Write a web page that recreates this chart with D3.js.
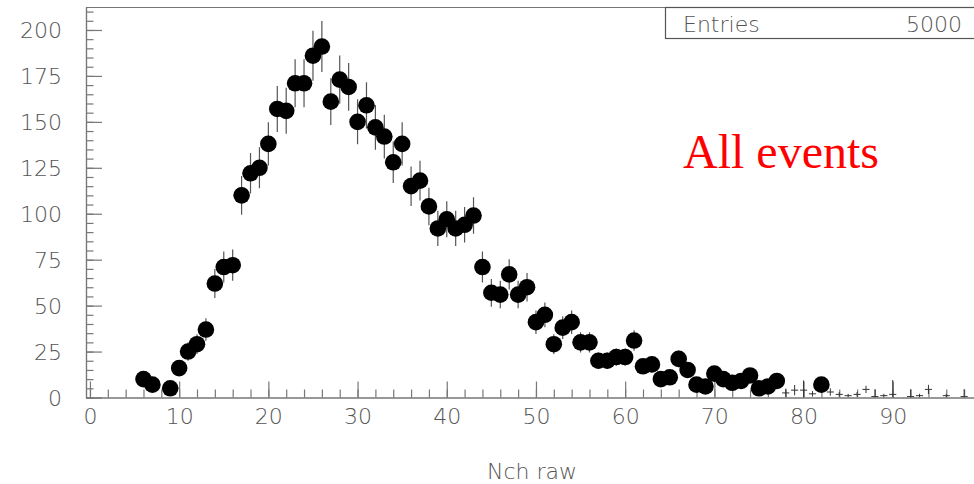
<!DOCTYPE html>
<html>
<head>
<meta charset="utf-8">
<script src="https://cdn.jsdelivr.net/npm/d3@7"></script>
<style>
  html, body { margin: 0; padding: 0; background: #fff; }
  svg { display: block; }
  .lbl { font-family: "DejaVu Sans", sans-serif; font-size: 22px; fill: #555; font-weight: 200; }
</style>
</head>
<body>
<svg id="chart" width="974" height="484"></svg>
<script>
// ---- data ----
const bins = [6, 7, 9, 10, 11, 12, 13, 14, 15, 16, 17, 18, 19, 20, 21, 22, 23, 24, 25, 26,
  27, 28, 29, 30, 31, 32, 33, 34, 35, 36, 37, 38, 39, 40, 41, 42, 43, 44, 45, 46,
  47, 48, 49, 50, 51, 52, 53, 54, 55, 56, 57, 58, 59, 60, 61, 62, 63, 64, 65, 66,
  67, 68, 69, 70, 71, 72, 73, 74, 75, 76, 77, 82];
const counts = [10, 7, 5, 16, 25, 29, 37, 62, 71, 72, 110, 122, 125, 138, 157, 156, 171, 171, 186, 191,
  161, 173, 169, 150, 159, 147, 142, 128, 138, 115, 118, 104, 92, 97, 92, 94, 99, 71, 57, 56,
  67, 56, 60, 41, 45, 29, 38, 41, 30, 30, 20, 20, 22, 22, 31, 17, 18, 10, 11, 21,
  15, 7, 6, 13, 10, 8, 9, 12, 5, 6, 9, 7];
// small tail bins drawn as error crosses only
const tailBins   = [78, 79, 80, 81, 83, 84, 85, 86, 87, 88, 89, 90, 92, 93, 94, 96, 98];
const tailValues = [2.5, 4, 4, 2, 3, 1.7, 1, 1.7, 4.4, 0.5, 1, 1.7, 0.5, 1, 4.4, 1, 0.5];
const tailErrors = [2.3, 2.8, 5.3, 1.5, 2, 1.3, 1, 1.3, 2, 4, 1, 7.8, 4, 1, 2.5, 1, 4];
const xTicks = [0, 10, 20, 30, 40, 50, 60, 70, 80, 90];
const yTicks = [0, 25, 50, 75, 100, 125, 150, 175, 200];
const entries = 5000;
const xTitle = "Nch raw";
const note = "All events";

// ---- drawing ----
const svg = d3.select("#chart");
const x = d3.scaleLinear().domain([-0.5, 99.5]).range([85.5, 977.5]);
const y = d3.scaleLinear().domain([0, 212.5]).range([397.5, 7]);
const axisColor = "#777";

// frame top
svg.append("line").attr("x1", 86).attr("x2", 980).attr("y1", 7.5).attr("y2", 7.5)
  .attr("stroke", axisColor).attr("stroke-width", 1.2);

// y axis: major + minor ticks pointing inward
const yMinor = d3.range(0, 211, 5);
const gyMin = svg.append("g").attr("transform", "translate(86,0)")
  .call(d3.axisLeft(y).tickValues(yMinor).tickSizeInner(-7.5).tickSizeOuter(0).tickFormat(""));
const gy = svg.append("g").attr("transform", "translate(86,0)")
  .call(d3.axisLeft(y).tickValues(yTicks).tickSizeInner(-16).tickSizeOuter(0).tickPadding(24)
    .tickFormat(d3.format("d")));
gy.selectAll("text").attr("class", "lbl").attr("fill", null).attr("dy", "0.36em");

// x axis
const xMinor = d3.range(0, 100, 2);
const gxMin = svg.append("g").attr("transform", "translate(0,397.5)")
  .call(d3.axisBottom(x).tickValues(xMinor).tickSizeInner(-8).tickSizeOuter(0).tickFormat(""));
const gx = svg.append("g").attr("transform", "translate(0,397.5)")
  .call(d3.axisBottom(x).tickValues(xTicks).tickSizeInner(-16).tickSizeOuter(0).tickPadding(11)
    .tickFormat(d3.format("d")));
gx.selectAll("text").attr("class", "lbl").attr("fill", null);

[gyMin, gy, gxMin, gx].forEach(g => {
  g.selectAll("line").attr("stroke", axisColor).attr("stroke-width", 1.2);
  g.selectAll("path.domain").attr("stroke", axisColor).attr("stroke-width", 1.2);
  g.attr("font-family", null).attr("font-size", null);
});

// clip to frame
svg.append("clipPath").attr("id", "clip").append("rect")
  .attr("x", 86).attr("y", 7).attr("width", 900).attr("height", 390.5);
const plot = svg.append("g").attr("clip-path", "url(#clip)");

// error bars for markers
const pts = bins.map((b, i) => ({ b, v: counts[i] }));
plot.selectAll("line.err").data(pts).join("line").attr("class", "err")
  .attr("x1", d => x(d.b)).attr("x2", d => x(d.b))
  .attr("y1", d => y(d.v - Math.sqrt(d.v))).attr("y2", d => y(d.v + Math.sqrt(d.v)))
  .attr("stroke", "#555").attr("stroke-width", 1.2);
plot.selectAll("circle.pt").data(pts).join("circle").attr("class", "pt")
  .attr("cx", d => x(d.b)).attr("cy", d => y(d.v)).attr("r", 8.3).attr("fill", "#000");

// tail crosses
const tail = tailBins.map((b, i) => ({ b, v: tailValues[i], e: tailErrors[i] }));
const tg = plot.selectAll("g.tail").data(tail).join("g").attr("class", "tail");
tg.append("line")
  .attr("x1", d => x(d.b)).attr("x2", d => x(d.b))
  .attr("y1", d => y(Math.max(0, d.v - d.e))).attr("y2", d => y(d.v + d.e))
  .attr("stroke", "#333").attr("stroke-width", 1);
tg.append("line")
  .attr("x1", d => x(d.b - 0.4)).attr("x2", d => x(d.b + 0.4))
  .attr("y1", d => y(d.v)).attr("y2", d => y(d.v))
  .attr("stroke", "#333").attr("stroke-width", 1);

// stats box
svg.append("rect").attr("x", 665.5).attr("y", 7.5).attr("width", 330).attr("height", 31)
  .attr("fill", "#fff").attr("stroke", "#555").attr("stroke-width", 1.2);
svg.append("text").attr("class", "lbl").attr("x", 683).attr("y", 31.5).text("Entries");
svg.append("text").attr("class", "lbl").attr("x", 962).attr("y", 31.5)
  .attr("text-anchor", "end").text(entries);

// axis title
svg.append("text").attr("class", "lbl").attr("x", 577).attr("y", 478.5)
  .attr("text-anchor", "end").text(xTitle);

// note
svg.append("text").attr("x", 683).attr("y", 168)
  .attr("font-family", "'Liberation Serif', 'Times New Roman', serif")
  .attr("font-size", 48).attr("fill", "#ff0000").text(note);
</script>
</body>
</html>
